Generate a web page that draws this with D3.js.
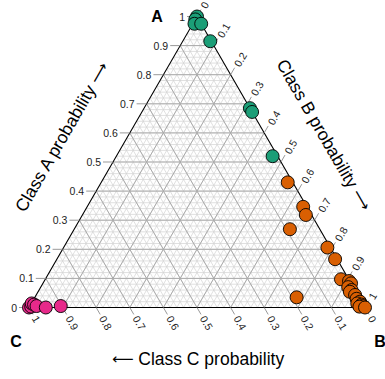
<!DOCTYPE html>
<html>
<head>
<meta charset="utf-8">
<script src="https://cdn.jsdelivr.net/npm/d3@7"></script>
<style>
  html, body { margin: 0; padding: 0; background: #fff; }
  svg { display: block; font-family: "Liberation Sans", Arial, sans-serif; }
</style>
</head>
<body>
<svg id="chart" width="385" height="379"></svg>
<script>
// Class membership probabilities [A, B, C] for each observation
const classAPoints = [
  [1.000, 0.000, 0.000], [0.990, 0.000, 0.010], [0.975, 0.005, 0.020],
  [0.975, 0.025, 0.000], [0.915, 0.082, 0.003], [0.685, 0.315, 0.000],
  [0.672, 0.328, 0.000], [0.520, 0.465, 0.015]
];
const classBPoints = [
  [0.430, 0.555, 0.015], [0.346, 0.643, 0.011], [0.318, 0.665, 0.017],
  [0.269, 0.642, 0.089], [0.206, 0.785, 0.009], [0.166, 0.828, 0.006],
  [0.097, 0.880, 0.023], [0.091, 0.907, 0.002], [0.083, 0.917, 0.000],
  [0.070, 0.915, 0.015], [0.060, 0.930, 0.010], [0.054, 0.928, 0.018],
  [0.043, 0.949, 0.008], [0.030, 0.960, 0.010], [0.020, 0.975, 0.005],
  [0.014, 0.970, 0.016], [0.010, 0.985, 0.005], [0.005, 0.990, 0.005],
  [0.003, 0.982, 0.015], [0.000, 1.000, 0.000], [0.035, 0.779, 0.186]
];
const classCPoints = [
  [0.000, 0.000, 1.000], [0.003, 0.005, 0.992], [0.014, 0.001, 0.985],
  [0.010, 0.010, 0.980], [0.005, 0.020, 0.975], [0.000, 0.050, 0.950],
  [0.005, 0.092, 0.903]
];
const tickValues = [0, 0.1, 0.2, 0.3, 0.4, 0.5, 0.6, 0.7, 0.8, 0.9, 1];
const tickLabels = ["0", "0.1", "0.2", "0.3", "0.4", "0.5", "0.6", "0.7", "0.8", "0.9", "1"];
const seriesColors = ["#1B9E77", "#D95F02", "#E7298A"];

const svg = d3.select("#chart");

// Triangle frame: C bottom-left, B bottom-right, A at the top
const xScale = d3.scaleLinear().domain([0, 1]).range([29, 365]);   // horizontal share (B + A/2)
const yScale = d3.scaleLinear().domain([0, 1]).range([307.5, 16.5]); // A share
const proj = (a, b, c) => {
  const s = a + b + c;
  a /= s; b /= s;
  return [xScale(b + a / 2), yScale(a)];
};

const g = svg.append("g");

// Grid lines
function gridLines(step, color, width) {
  const vals = d3.range(step, 1 - 1e-9, step);
  const segs = [];
  vals.forEach(v => {
    segs.push([proj(v, 0, 1 - v), proj(v, 1 - v, 0)]);   // constant A
    segs.push([proj(1 - v, v, 0), proj(0, v, 1 - v)]);   // constant B
    segs.push([proj(1 - v, 0, v), proj(0, 1 - v, v)]);   // constant C
  });
  g.append("g").selectAll("line").data(segs).join("line")
    .attr("x1", d => d[0][0]).attr("y1", d => d[0][1])
    .attr("x2", d => d[1][0]).attr("y2", d => d[1][1])
    .attr("stroke", color).attr("stroke-width", width);
}
gridLines(0.02, "#d2d2d2", 0.7);
gridLines(0.1, "#ababab", 1);

// Outline
const corners = [proj(1, 0, 0), proj(0, 1, 0), proj(0, 0, 1)];
g.append("path")
  .attr("d", d3.line()(corners) + "Z")
  .attr("fill", "none").attr("stroke", "#000").attr("stroke-width", 1.1);

// Axis ticks and labels
const tickLen = 8;
const ticks = g.append("g").attr("font-size", "10.5px").attr("fill", "#222");
tickValues.forEach((v, i) => {
  // Left axis: Class A
  let p = proj(v, 0, 1 - v);
  ticks.append("line").attr("x1", p[0]).attr("y1", p[1])
    .attr("x2", p[0] - tickLen - 2).attr("y2", p[1])
    .attr("stroke", "#999").attr("stroke-width", 1);
  ticks.append("text").attr("x", p[0] - tickLen - 4).attr("y", p[1])
    .attr("text-anchor", "end").attr("dominant-baseline", "central")
    .text(tickLabels[i]);

  // Right axis: Class B
  p = proj(1 - v, v, 0);
  let q = [p[0] + 0.5 * tickLen, p[1] - 0.866 * tickLen];
  ticks.append("line").attr("x1", p[0]).attr("y1", p[1])
    .attr("x2", q[0]).attr("y2", q[1])
    .attr("stroke", "#999").attr("stroke-width", 1);
  let t = [q[0] + 2, q[1] - 2];
  ticks.append("text")
    .attr("transform", `translate(${t[0]},${t[1]}) rotate(-60)`)
    .attr("text-anchor", "start").attr("dominant-baseline", "central")
    .text(tickLabels[i]);

  // Bottom axis: Class C
  p = proj(0, 1 - v, v);
  q = [p[0] + 0.5 * tickLen, p[1] + 0.866 * tickLen];
  ticks.append("line").attr("x1", p[0]).attr("y1", p[1])
    .attr("x2", q[0]).attr("y2", q[1])
    .attr("stroke", "#999").attr("stroke-width", 1);
  t = [q[0] + 2, q[1] + 2];
  ticks.append("text")
    .attr("transform", `translate(${t[0]},${t[1]}) rotate(60)`)
    .attr("text-anchor", "start").attr("dominant-baseline", "central")
    .text(tickLabels[i]);
});

// Axis titles
const titles = g.append("g").attr("font-size", "17.5px").attr("fill", "#000")
  .attr("text-anchor", "middle").attr("dominant-baseline", "central");
const arrow = (label, dir) => {
  const t = titles.append("text");
  if (dir === "left") {
    t.append("tspan").attr("font-family", "DejaVu Sans").attr("font-size", "15px").text("\u27F5");
    t.append("tspan").text(" " + label);
  } else {
    t.append("tspan").text(label + " ");
    t.append("tspan").attr("font-family", "DejaVu Sans").attr("font-size", "15px").text("\u27F6");
  }
  return t;
};
arrow("Class A probability", "right").attr("transform", "translate(62,137) rotate(-60)");
arrow("Class B probability", "right").attr("transform", "translate(324,135) rotate(60)");
arrow("Class C probability", "left").attr("transform", "translate(198,359)");

// Corner labels
const cornerLabels = g.append("g").attr("font-size", "16px").attr("font-weight", "bold")
  .attr("text-anchor", "middle").attr("dominant-baseline", "central");
cornerLabels.append("text").attr("x", 157).attr("y", 16).text("A");
cornerLabels.append("text").attr("x", 380).attr("y", 341).text("B");
cornerLabels.append("text").attr("x", 16).attr("y", 341).text("C");

// Points
[classAPoints, classBPoints, classCPoints].forEach((pts, k) => {
  g.append("g").selectAll("circle").data(pts).join("circle")
    .attr("cx", d => proj(d[0], d[1], d[2])[0])
    .attr("cy", d => proj(d[0], d[1], d[2])[1])
    .attr("r", 6.5)
    .attr("fill", seriesColors[k])
    .attr("stroke", "#000").attr("stroke-width", 0.9);
});
</script>
</body>
</html>
